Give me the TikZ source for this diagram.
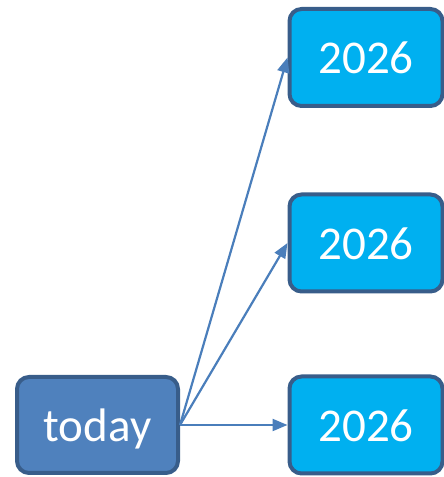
\documentclass[tikz,border=0pt]{standalone}
\usepackage{fontspec}
\setmainfont{Carlito}
\usetikzlibrary{arrows.meta}
\definecolor{todayfill}{HTML}{4F81BD}
\definecolor{boxedge}{HTML}{385D8A}
\definecolor{yearfill}{HTML}{00B0F0}
\definecolor{linkcol}{HTML}{4A7EBB}
\tikzset{
  basebox/.style={draw=boxedge, line width=4pt, rounded corners=12pt,
    text=white, font=\fontsize{47}{50}\selectfont, inner sep=0pt,
    text height=39pt, text depth=6pt},
  todaybox/.style={basebox, fill=todayfill, minimum width=161pt, minimum height=96pt},
  yearbox/.style={basebox, fill=yearfill, minimum width=153pt, minimum height=97pt},
  link/.style={draw=linkcol, line width=2.2pt, -{Triangle[length=15pt,width=12pt]}}
}
\begin{document}
\begin{tikzpicture}[x=1pt,y=1pt]
  \useasboundingbox (0,0) rectangle (444,477);
  \node[todaybox] (today) at (97.5,52) {today};
  \node[yearbox] (y1) at (366,419.5) {2026};
  \node[yearbox] (y2) at (366,234) {2026};
  \node[yearbox] (y3) at (366,52) {2026};
  \draw[link] (today.east) -- (y1.west);
  \draw[link] (today.east) -- (y2.west);
  \draw[link] (today.east) -- (y3.west);
\end{tikzpicture}
\end{document}
